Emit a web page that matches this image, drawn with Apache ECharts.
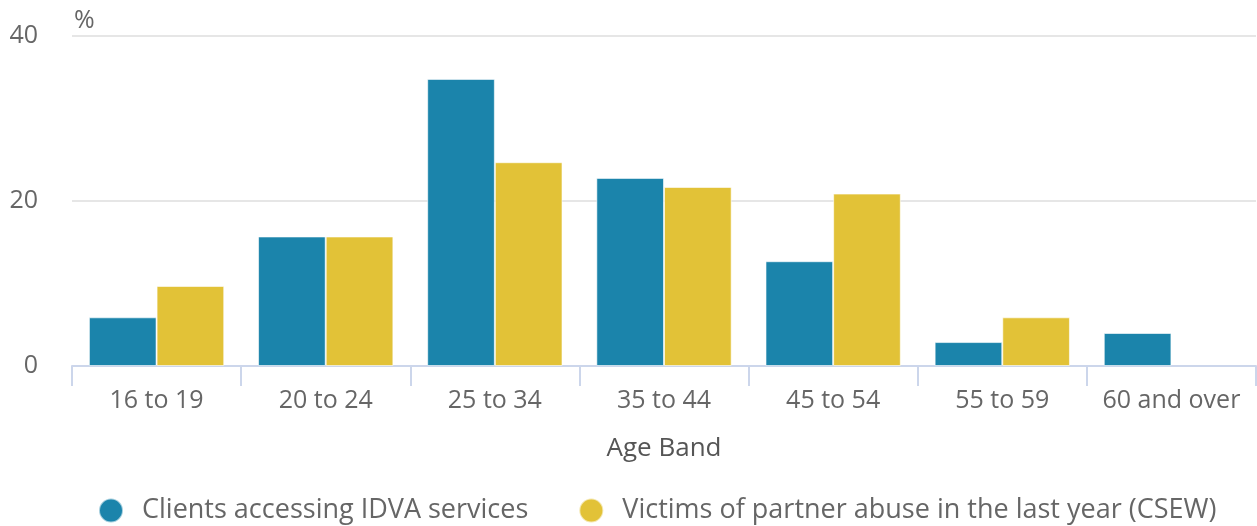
<!DOCTYPE html>
<html>
<head>
<meta charset="utf-8">
<script src="https://cdn.jsdelivr.net/npm/echarts@6/dist/echarts.min.js"></script>
<style>
    html, body { margin: 0; padding: 0; background: #fff; }
    #chart { width: 1257px; height: 526px; }
</style>
</head>
<body>
<div id="chart"></div>
<script>
    // age bands and the two series (%)
    const categories = ['16 to 19', '20 to 24', '25 to 34', '35 to 44', '45 to 54', '55 to 59', '60 and over'];
    const idvaClients = [5.9, 15.7, 34.8, 22.8, 12.7, 2.9, 4.0];
    const csewVictims = [9.7, 15.7, 24.7, 21.7, 20.9, 5.9, null];
    const yTicks = [0, 20, 40];

    const font = 'Open Sans';
    const chart = echarts.init(document.getElementById('chart'));

    const option = {
        animation: false,
        textStyle: {fontFamily: font},
        grid: {left: 72, right: 1, top: 36, bottom: 160},
        legend: {
            bottom: -3,
            left: 93,
            itemGap: 50,
            itemWidth: 24,
            itemHeight: 24,
            icon: 'circle',
            textStyle: {fontFamily: font, fontSize: 27, color: '#666', padding: [0, 0, 0, 14]},
            data: ['Clients accessing IDVA services', 'Victims of partner abuse in the last year (CSEW)']
        },
        xAxis: {
            type: 'category',
            data: categories,
            name: 'Age Band',
            nameLocation: 'middle',
            nameGap: 70,
            nameTextStyle: {fontFamily: font, fontSize: 26, color: '#555'},
            axisLine: {lineStyle: {color: '#ccd6eb', width: 2}},
            axisTick: {show: true, interval: 0, length: 20, lineStyle: {color: '#ccd6eb', width: 2}},
            axisLabel: {interval: 0, margin: 22, fontFamily: font, fontSize: 25, color: '#666'}
        },
        yAxis: {
            type: 'value',
            min: yTicks[0],
            max: yTicks[yTicks.length - 1],
            interval: yTicks[1] - yTicks[0],
            name: '%',
            nameLocation: 'end',
            nameGap: 3,
            nameTextStyle: {fontFamily: font, fontSize: 25, color: '#666', align: 'left', padding: [0, 0, 0, 2]},
            axisLabel: {margin: 34, fontFamily: font, fontSize: 25, color: '#666'},
            splitLine: {lineStyle: {color: '#e6e6e6', width: 2}}
        },
        series: [
            {
                name: 'Clients accessing IDVA services',
                type: 'bar',
                data: idvaClients,
                barGap: '0%',
                barCategoryGap: '20%',
                itemStyle: {color: '#1b84ab', borderColor: 'rgba(255,255,255,0.6)', borderWidth: 1}
            },
            {
                name: 'Victims of partner abuse in the last year (CSEW)',
                type: 'bar',
                data: csewVictims,
                barGap: '0%',
                barCategoryGap: '20%',
                itemStyle: {color: '#e2c237', borderColor: 'rgba(255,255,255,0.6)', borderWidth: 1}
            }
        ]
    };
    chart.setOption(option);
</script>
</body>
</html>
